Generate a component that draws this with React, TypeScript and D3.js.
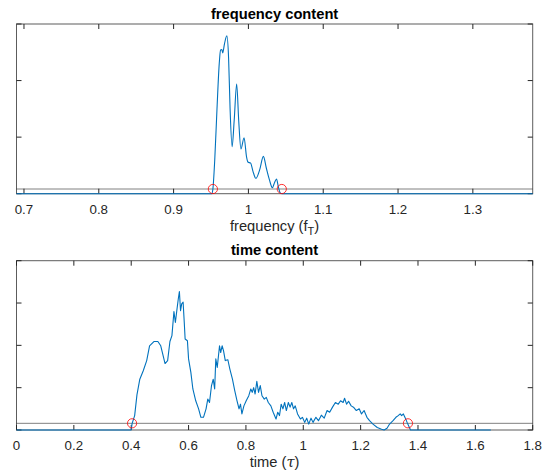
import React from 'react';
import * as d3 from 'd3';

// ---------- data ----------
const freqDomain = [0.69, 1.38];
const freqTicks = [0.7, 0.8, 0.9, 1, 1.1, 1.2, 1.3];
const freqYTicks = [0, 1, 2, 3];
const freqF = [0.69, 0.951, 0.9525, 0.955, 0.958, 0.961, 0.9628, 0.9645, 0.9656, 0.968, 0.9712, 0.9735, 0.9755, 0.9782, 0.981, 0.9843, 0.987, 0.99, 0.9942, 0.9975, 0.9993, 1.003, 1.006, 1.01, 1.015, 1.02, 1.024, 1.028, 1.032, 1.035, 1.0376, 1.04, 1.0427, 1.045, 1.38];
const freqV = [0, 0, 0.08, 0.6, 1.5, 2.3, 2.54, 2.55, 2.49, 2.65, 2.79, 2.4, 1.5, 0.83, 1.3, 1.94, 1.3, 0.79, 0.99, 0.65, 0.56, 0.54, 0.4, 0.27, 0.42, 0.66, 0.45, 0.25, 0.106, 0.2, 0.26, 0.12, 0.01, 0, 0];
const freqThreshold = 0.083;
const freqCross = [0.9525, 1.0446];

const timeDomain = [0, 1.8];
const timeTicks = [0, 0.2, 0.4, 0.6, 0.8, 1, 1.2, 1.4, 1.6, 1.8];
const timeYTicks = [0, 1, 2, 3, 4];
const timeT = [0, 0.4, 0.403, 0.412, 0.42, 0.43, 0.442, 0.454, 0.464, 0.479, 0.493, 0.503, 0.518, 0.527, 0.535, 0.542, 0.549, 0.554, 0.559, 0.564, 0.568, 0.572, 0.576, 0.581, 0.585, 0.588, 0.596, 0.6, 0.608, 0.615, 0.625, 0.635, 0.643, 0.652, 0.661, 0.667, 0.673, 0.68, 0.686, 0.691, 0.695, 0.7, 0.708, 0.712, 0.717, 0.722, 0.728, 0.737, 0.744, 0.753, 0.761, 0.769, 0.776, 0.781, 0.786, 0.793, 0.801, 0.81, 0.817, 0.822, 0.827, 0.832, 0.838, 0.844, 0.85, 0.856, 0.864, 0.871, 0.878, 0.887, 0.895, 0.905, 0.911, 0.917, 0.923, 0.929, 0.935, 0.941, 0.948, 0.954, 0.96, 0.966, 0.972, 0.98, 0.99, 0.997, 1.005, 1.012, 1.019, 1.027, 1.034, 1.044, 1.053, 1.063, 1.073, 1.083, 1.092, 1.102, 1.112, 1.122, 1.13, 1.139, 1.144, 1.151, 1.158, 1.167, 1.175, 1.185, 1.195, 1.203, 1.212, 1.222, 1.231, 1.243, 1.258, 1.273, 1.282, 1.292, 1.301, 1.313, 1.323, 1.331, 1.338, 1.343, 1.349, 1.356, 1.362, 1.37, 1.374, 1.654];
const timeV = [0, 0, 0.15, 0.34, 0.83, 1.2, 1.4, 1.64, 1.99, 2.09, 2.09, 1.99, 1.57, 1.64, 2.09, 2.23, 2.8, 2.54, 2.82, 3.09, 3.27, 2.82, 2.98, 3.02, 2.54, 2.15, 2.11, 1.68, 1.36, 0.97, 0.69, 0.5, 0.3, 0.3, 0.5, 0.73, 0.65, 1.05, 1.2, 0.97, 1.68, 1.48, 1.99, 1.83, 1.99, 1.87, 1.64, 1.66, 1.44, 1.2, 0.93, 0.69, 0.5, 0.61, 0.38, 0.57, 0.69, 0.81, 0.97, 0.89, 1.0, 0.85, 1.15, 0.89, 1.05, 0.81, 0.73, 0.77, 0.65, 0.57, 0.42, 0.26, 0.42, 0.34, 0.61, 0.5, 0.65, 0.46, 0.65, 0.54, 0.65, 0.5, 0.57, 0.38, 0.26, 0.3, 0.18, 0.28, 0.14, 0.28, 0.18, 0.3, 0.22, 0.35, 0.28, 0.46, 0.42, 0.54, 0.65, 0.61, 0.69, 0.65, 0.75, 0.61, 0.68, 0.57, 0.54, 0.46, 0.5, 0.38, 0.46, 0.3, 0.22, 0.14, 0.06, 0.02, 0, 0.04, 0.14, 0.22, 0.3, 0.34, 0.38, 0.34, 0.38, 0.28, 0.18, 0.06, 0, 0];
const timeThreshold = 0.158;
const timeCross = [0.403, 1.365];

// ---------- layout ----------
const LEFT = 16.5;
const RIGHT = 532.7;
const FONT = '"Liberation Sans", Arial, Helvetica, sans-serif';
const AX = '#262626';
const BLUE = '#0072BD';

type PanelProps = {
  top: number;
  bottom: number;
  domain: number[];
  yMax: number;
  xTicks: number[];
  yTicks: number[];
  xs: number[];
  vs: number[];
  threshold: number;
  cross: number[];
  title: string;
  xlabel: React.ReactNode;
  smooth: boolean;
};

function Panel(p: PanelProps) {
  const x = d3.scaleLinear().domain(p.domain).range([LEFT, RIGHT]);
  const y = d3.scaleLinear().domain([0, p.yMax]).range([p.bottom, p.top]);
  const pts = p.xs.map((d, i) => [d, p.vs[i]] as [number, number]);
  const line = d3
    .line<[number, number]>()
    .x((d) => x(d[0]))
    .y((d) => y(d[1]))
    .curve(p.smooth ? d3.curveMonotoneX : d3.curveLinear);
  const tl = 5;
  const fmt = (v: number) => String(v);
  return (
    <g>
      <text x={(LEFT + RIGHT) / 2} y={p.top - 5.5} textAnchor="middle" fontFamily={FONT} fontSize={14.7} fontWeight="bold" fill="#000">
        {p.title}
      </text>
      <line x1={LEFT} x2={RIGHT} y1={y(p.threshold)} y2={y(p.threshold)} stroke="#808080" strokeWidth={1} />
      <rect x={LEFT} y={p.top} width={RIGHT - LEFT} height={p.bottom - p.top} fill="none" stroke={AX} strokeOpacity={0.75} strokeWidth={1} />
      {p.xTicks.map((t) => (
        <g key={'xt' + t}>
          <line x1={x(t)} x2={x(t)} y1={p.bottom} y2={p.bottom - tl} stroke={AX} strokeWidth={1} />
          <line x1={x(t)} x2={x(t)} y1={p.top} y2={p.top + tl} stroke={AX} strokeWidth={1} />
          <text x={x(t)} y={p.bottom + 19.8} textAnchor="middle" fontFamily={FONT} fontSize={13.3} fill={AX}>
            {fmt(t)}
          </text>
        </g>
      ))}
      {p.yTicks.map((t) => (
        <g key={'yt' + t}>
          <line x1={LEFT} x2={LEFT + tl} y1={y(t)} y2={y(t)} stroke={AX} strokeWidth={1} />
          <line x1={RIGHT} x2={RIGHT - tl} y1={y(t)} y2={y(t)} stroke={AX} strokeWidth={1} />
        </g>
      ))}
      <path d={line(pts) || ''} fill="none" stroke={BLUE} strokeWidth={1.1} strokeLinejoin="round" />
      {p.cross.map((c) => (
        <circle key={'c' + c} cx={x(c)} cy={y(p.threshold)} r={4.6} fill="none" stroke="#ff0000" strokeWidth={0.8} />
      ))}
      <text x={(LEFT + RIGHT) / 2} y={p.bottom + 37.3} textAnchor="middle" fontFamily={FONT} fontSize={14.7} fill={AX}>
        {p.xlabel}
      </text>
    </g>
  );
}

export default function App() {
  return (
    <svg width={548} height={474} style={{ position: 'absolute', left: 0, top: 0, background: '#fff' }}>
      <rect x={0} y={0} width={548} height={474} fill="#fff" />
      <Panel
        top={24}
        bottom={193.7}
        domain={freqDomain}
        yMax={3}
        xTicks={freqTicks}
        yTicks={freqYTicks}
        xs={freqF}
        vs={freqV}
        threshold={freqThreshold}
        cross={freqCross}
        title="frequency content"
        smooth={true}
        xlabel={
          <>
            frequency (f
            <tspan dy={4} fontSize={11}>T</tspan>
            <tspan dy={-4}>)</tspan>
          </>
        }
      />
      <Panel
        top={260.7}
        bottom={430}
        domain={timeDomain}
        yMax={4}
        xTicks={timeTicks}
        yTicks={timeYTicks}
        xs={timeT}
        vs={timeV}
        threshold={timeThreshold}
        cross={timeCross}
        title="time content"
        smooth={false}
        xlabel={
          <>
            time (<tspan fontStyle="italic" fontFamily='"DejaVu Serif", serif'>τ</tspan>)
          </>
        }
      />
    </svg>
  );
}
